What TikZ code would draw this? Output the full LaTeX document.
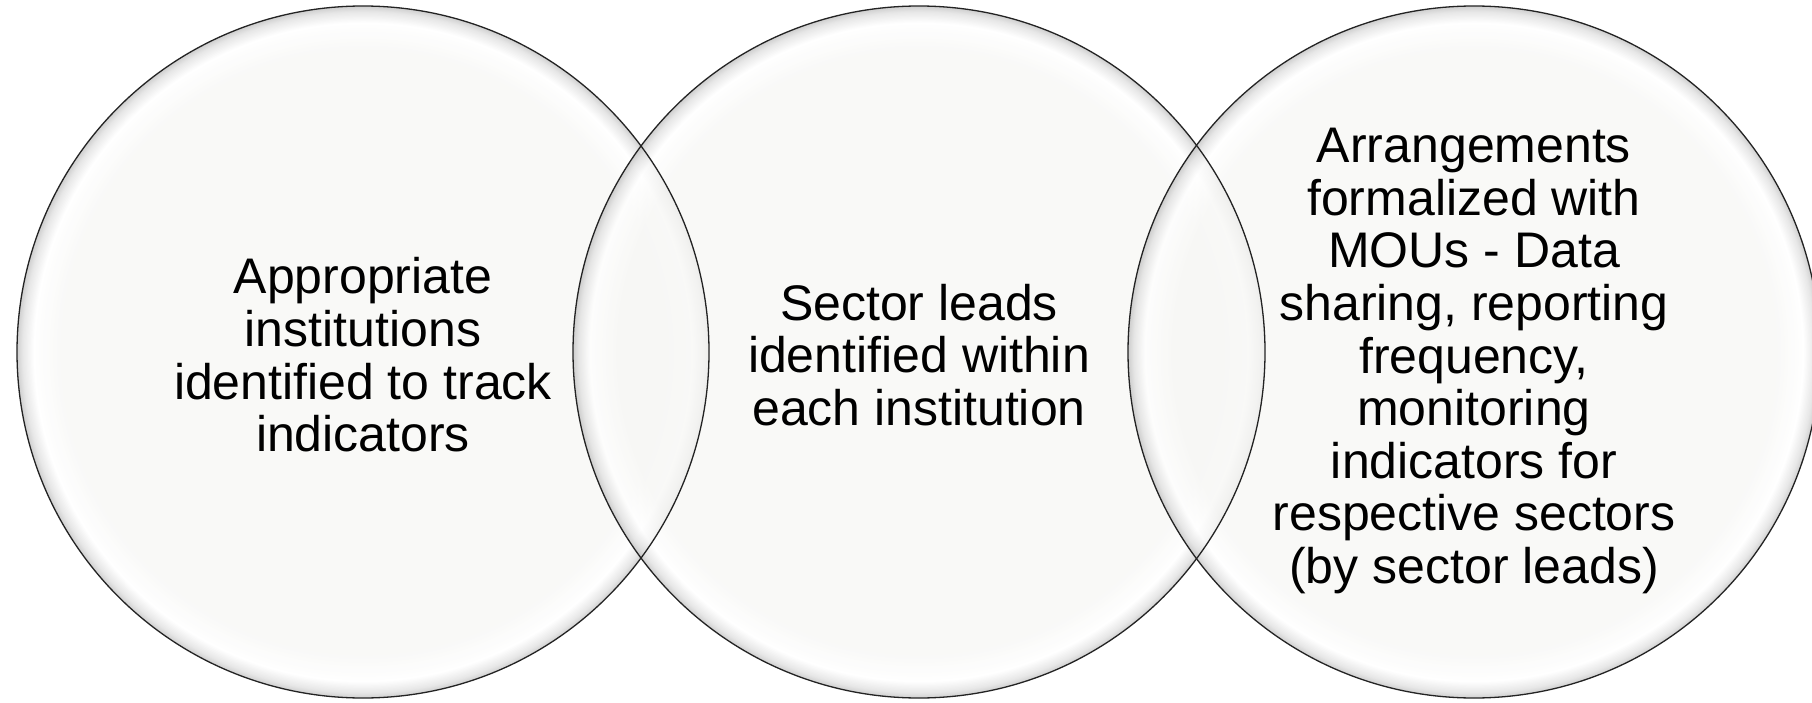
\documentclass[tikz,border=0pt]{standalone}
\usepackage{fontspec}
\setmainfont{Liberation Sans}
\definecolor{basec}{RGB}{247,247,245}
\definecolor{rimc}{RGB}{35,35,35}
\pgfdeclareradialshading{glossy}{\pgfpoint{0bp}{0bp}}{%
  color(0bp)=(basec);
  color(21.8bp)=(basec);
  color(23.8bp)=(white);
  color(24.6bp)=(gray!25);
  color(25bp)=(gray!50);
  color(50bp)=(gray!50)}
\tikzset{
  bubble/.style={circle, minimum size=692pt, inner sep=0pt, shading=glossy, fill opacity=0.75, text opacity=1},
  rim/.style={draw=rimc, line width=1.3pt},
  txt/.style={align=center, text=black, font=\fontsize{50}{52.6}\selectfont}
}
\begin{document}
\begin{tikzpicture}[x=1pt,y=-1pt]
\fill[white] (0,0) rectangle (1812,703);
\useasboundingbox (0,0) rectangle (1812,703);
\node[bubble] (c1) at (363,352) {};
\node[bubble] (c2) at (919,352) {};
\node[bubble] (c3) at (1474,352) {};
\draw[rim] (c1.center) circle[radius=346pt];
\draw[rim] (c2.center) circle[radius=346pt];
\draw[rim] (c3.center) circle[radius=346pt];
\node[txt] (t1) at ([yshift=-3pt]c1.center) {Appropriate\\institutions\\identified to track\\indicators};
\node[txt] (t2) at ([yshift=-3pt]c2.center) {Sector leads\\identified within\\each institution};
\node[txt] (t3) at ([yshift=-9pt]c3.center) {Arrangements\\formalized with\\MOUs - Data\\sharing, reporting\\frequency,\\monitoring\\indicators for\\respective sectors\\(by sector leads)};
\end{tikzpicture}
\end{document}
